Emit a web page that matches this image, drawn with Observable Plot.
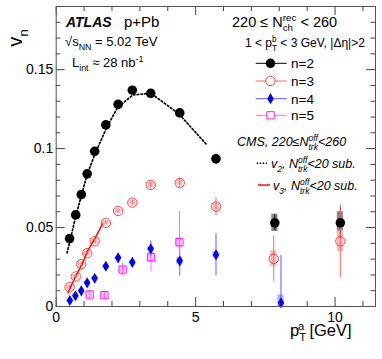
<!DOCTYPE html>
<html><head><meta charset="utf-8">
<script src="https://cdn.jsdelivr.net/npm/d3@7"></script>
<script src="https://cdn.jsdelivr.net/npm/@observablehq/plot@0.6"></script>
<style>body{margin:0;background:#fff}svg{display:block}</style>
</head><body><div id="chart"></div>
<script>
// ---- data ----
const pt2  = [0.48,0.70,0.90,1.11,1.38,1.78,2.22,2.73,3.39,4.43,5.73,7.84,10.19];
const v2   = [0.043,0.058,0.0709,0.084,0.0983,0.115,0.128,0.137,0.135,0.1226,0.0935,0.053,0.053];
const e2   = [0.001,0.001,0.001,0.001,0.001,0.001,0.001,0.001,0.001,0.0015,0.002,0.005,0.010];
const s2   = [0.0015,0.0015,0.0015,0.0015,0.0015,0.0015,0.0015,0.0015,0.0015,0.0015,0.002,0.0055,0.007];

const pt3  = [0.48,0.70,0.90,1.11,1.38,1.78,2.22,2.73,3.39,4.43,5.73,7.80,10.19];
const v3   = [0.0122,0.019,0.0268,0.0338,0.0413,0.053,0.0605,0.0658,0.077,0.0783,0.0633,0.0302,0.0413];
const e3   = [0.001,0.001,0.001,0.001,0.001,0.001,0.001,0.0015,0.002,0.003,0.0058,0.0145,0.023];
const s3   = [0.0015,0.0015,0.0015,0.0015,0.0015,0.0015,0.0015,0.0015,0.0015,0.0015,0.002,0.005,0.0065];

const pt4  = [0.49,0.69,0.90,1.11,1.38,1.78,2.22,2.73,3.39,4.43,5.73,8.06];
const v4   = [0.0038,0.0068,0.0099,0.015,0.0179,0.0255,0.0308,0.028,0.0365,0.0289,0.0327,0.0023];
const e4   = [0.001,0.001,0.001,0.001,0.0015,0.002,0.002,0.002,0.005,0.0095,0.0134,0.030];
const s4   = [0.001,0.001,0.001,0.001,0.001,0.001,0.001,0.001,0.0015,0.002,0.002,0.005];

const pt5  = [1.20,1.73,2.38,3.40,4.42];
const v5   = [0.0076,0.0072,0.0234,0.0312,0.0407];
const e5   = [0.0025,0.0025,0.004,0.009,0.0195];
const s5   = [0.0018,0.0018,0.002,0.003,0.003];

const cmsPt2 = [0.39,0.5,0.7,0.9,1.1,1.4,1.8,2.2,2.75,3.4,4.4,5.37];
const cmsV2  = [0.034,0.042,0.057,0.070,0.083,0.097,0.113,0.126,0.134,0.135,0.122,0.103];
const cmsPt3 = [0.42,0.68,0.93,1.13,1.38,1.66];
const cmsV3  = [0.0085,0.0185,0.027,0.0354,0.0428,0.0523];

const xMajor = [0,5,10];
const xMinor = [1,2,3,4,6,7,8,9,11];
const yMajor = [0,0.05,0.1,0.15];
const yMinor = [0.01,0.02,0.03,0.04,0.06,0.07,0.08,0.09,0.11,0.12,0.13,0.14,0.16,0.17,0.18];

// ---- layout ----
const FONT = "'Liberation Sans', Arial, Helvetica, sans-serif";
const W = 382, H = 359, mL = 55.7, mR = 7, mT = 6, mB = 53;
const plotH = H - mT - mB, plotW = W - mL - mR;
const boxHalf = 0.11;

const rows = (pt, v, e, s) => pt.map((x, i) => ({x, y: v[i], e: e[i], s: s[i]}));
const d2 = rows(pt2, v2, e2, s2), d3r = rows(pt3, v3, e3, s3), d4 = rows(pt4, v4, e4, s4), d5 = rows(pt5, v5, e5, s5);
const c2 = cmsPt2.map((x, i) => ({x, y: cmsV2[i]}));
const c3 = cmsPt3.map((x, i) => ({x, y: cmsV3[i]}));

const series = [
  {d: d2, col: "black", bar: "black", box: "#8a8a8a", sym: "circle", fill: "black", r: 4.8},
  {d: d3r, col: "#ff3030", bar: "#ff6a6a", box: "#f7b9b9", sym: "circle", fill: "none", r: 4.7},
  {d: d4, col: "#0000ff", bar: "#5c5cff", box: "#a9b0ff", sym: "diamond", fill: "#0000ff", r: 3.4},
  {d: d5, col: "#ff00ff", bar: "#ff66ff", box: "#f8bff0", sym: "square", fill: "none", r: 4.1}
];

const marks = [];
for (const s of series) {
  marks.push(Plot.rect(s.d, {x1: d => d.x - boxHalf, x2: d => d.x + boxHalf, y1: d => d.y - d.s, y2: d => d.y + d.s, fill: s.box, clip: true}));
}
marks.push(Plot.line(c2, {x: "x", y: "y", stroke: "black", strokeWidth: 1.7, strokeDasharray: "1.6 2.2"}));
marks.push(Plot.line(c3, {x: "x", y: "y", stroke: "#ff0000", strokeWidth: 1.4}));
for (const s of series) {
  marks.push(Plot.ruleX(s.d, {x: "x", y1: d => d.y - d.e, y2: d => d.y + d.e, stroke: s.bar, strokeWidth: 1, clip: true}));
}
for (const s of series) {
  marks.push(Plot.dot(s.d, {x: "x", y: "y", symbol: s.sym, r: s.r, fill: s.fill, stroke: s.col, strokeWidth: s.fill === "none" ? 0.9 : 0}));
}
const tk = "#444";
marks.push(Plot.ruleX(xMajor, {x: d => d, insetTop: plotH - 9, stroke: tk}));
marks.push(Plot.ruleX(xMinor, {x: d => d, insetTop: plotH - 5, stroke: tk}));
marks.push(Plot.ruleX(xMajor, {x: d => d, insetBottom: plotH - 9, stroke: tk}));
marks.push(Plot.ruleX(xMinor, {x: d => d, insetBottom: plotH - 5, stroke: tk}));
marks.push(Plot.ruleY(yMajor, {y: d => d, insetRight: plotW - 9, stroke: tk}));
marks.push(Plot.ruleY(yMinor, {y: d => d, insetRight: plotW - 4.5, stroke: tk}));
marks.push(Plot.ruleY(yMajor, {y: d => d, insetLeft: plotW - 9, stroke: tk}));
marks.push(Plot.ruleY(yMinor, {y: d => d, insetLeft: plotW - 4.5, stroke: tk}));
marks.push(Plot.frame({stroke: "#555"}));
marks.push(Plot.axisX(xMajor, {tickSize: 0, tickPadding: 6, fontSize: 14, tickFormat: d => String(d), label: null}));
marks.push(Plot.axisY(yMajor, {tickSize: 0, tickPadding: 3, fontSize: 14, tickFormat: d => String(d), label: null}));

const chart = Plot.plot({
  width: W, height: H,
  marginLeft: mL, marginRight: mR, marginTop: mT, marginBottom: mB,
  x: {domain: [0, 11.45], axis: null},
  y: {domain: [0, 0.19], axis: null},
  style: {fontFamily: FONT, color: "black", background: "white", overflow: "visible"},
  marks
});
document.getElementById("chart").appendChild(chart);

// ---- annotations (rich text with sub/superscripts) ----
const svg = d3.select(chart);
function rich(x, y, parts, o = {}) {
  const fs = o.size || 13;
  const t = svg.append("text").attr("font-size", fs).attr("font-family", FONT).attr("fill", o.fill || "black").attr("text-anchor", "start");
  if (o.transform) t.attr("transform", o.transform); else t.attr("x", x).attr("y", y);
  if (o.style) t.attr("font-style", o.style);
  if (o.weight) t.attr("font-weight", o.weight);
  let cur = 0, pend = 0;
  for (const p of parts) {
    if (typeof p === "string") {
      t.append("tspan").attr("dy", -cur).attr("dx", pend).text(p); cur = 0; pend = 0; continue;
    }
    const s = fs * (p.scale || 0.68);
    let la = 0, lb = 0;
    if (p.sub != null) {
      const a = t.append("tspan").attr("font-size", s).attr("dy", fs * 0.3 - cur).attr("dx", pend).text(p.sub);
      cur = fs * 0.3; pend = 0; la = a.node().getComputedTextLength();
    }
    if (p.sup != null) {
      const b = t.append("tspan").attr("font-size", s).attr("dy", -(o.supShift || 0.4) * fs - cur).attr("dx", pend - la).text(p.sup);
      cur = -(o.supShift || 0.4) * fs; pend = 0; lb = b.node().getComputedTextLength();
      if (p.sub != null) pend = Math.max(0, la - lb);
    }
  }
  return t;
}

rich(66, 27, ["ATLAS"], {size: 14, weight: "bold", style: "italic"});
rich(124, 27, ["p+Pb"], {size: 15});
rich(65, 46, ["√s", {sub: "NN"}, " = 5.02 TeV"], {size: 13});
rich(72, 67, ["L", {sub: "int"}, " ≈ 28 nb", {sup: "-1"}], {size: 13});
rich(232, 27, ["220 ≤ N", {sub: "ch", sup: "rec"}, " < 260"], {size: 14.5});
rich(245, 47, ["1 < p", {sub: "T", sup: "b"}, " < 3 GeV, |Δη|>2"], {size: 12});

const legY = [63.3, 81, 98.7, 115.3];
const legLab = ["n=2", "n=3", "n=4", "n=5"];
series.forEach((s, i) => {
  svg.append("line").attr("x1", 255.7).attr("x2", 286.7).attr("y1", legY[i]).attr("y2", legY[i]).attr("stroke", s.bar).attr("stroke-width", 1);
  const symType = s.sym === "circle" ? d3.symbolCircle : s.sym === "diamond" ? d3.symbolDiamond : d3.symbolSquare;
  const sz = Math.PI * s.r * s.r;
  svg.append("path").attr("d", d3.symbol(symType, sz)()).attr("transform", `translate(270.5,${legY[i]})`)
    .attr("fill", s.fill === "none" ? "white" : s.fill).attr("stroke", s.col).attr("stroke-width", s.fill === "none" ? 0.9 : 0);
  rich(291, legY[i] + 5, [legLab[i]], {size: 13.5});
});

rich(237, 146, ["CMS, 220≤N", {sub: "trk", sup: "off"}, "<260"], {size: 12.5, style: "italic"});
svg.append("line").attr("x1", 256.7).attr("x2", 267).attr("y1", 163.3).attr("y2", 163.3).attr("stroke", "black").attr("stroke-width", 1.5).attr("stroke-dasharray", "1.5 1.5");
rich(271, 168, ["v", {sub: "2"}, ", N", {sub: "trk", sup: "off"}, "<20 sub."], {size: 12.5, style: "italic"});
svg.append("line").attr("x1", 258).attr("x2", 270).attr("y1", 185).attr("y2", 185).attr("stroke", "#ff0000").attr("stroke-width", 1.4);
rich(273, 190, ["v", {sub: "3"}, ", N", {sub: "trk", sup: "off"}, "<20 sub."], {size: 12.5, style: "italic"});

rich(0, 0, ["v", {sub: "n"}], {size: 20, transform: "translate(22,46.7) rotate(-90)"});
rich(290, 336, ["p", {sub: "T", sup: "a"}, " [GeV]"], {size: 16.5, supShift: 0.35});
</script></body></html>
